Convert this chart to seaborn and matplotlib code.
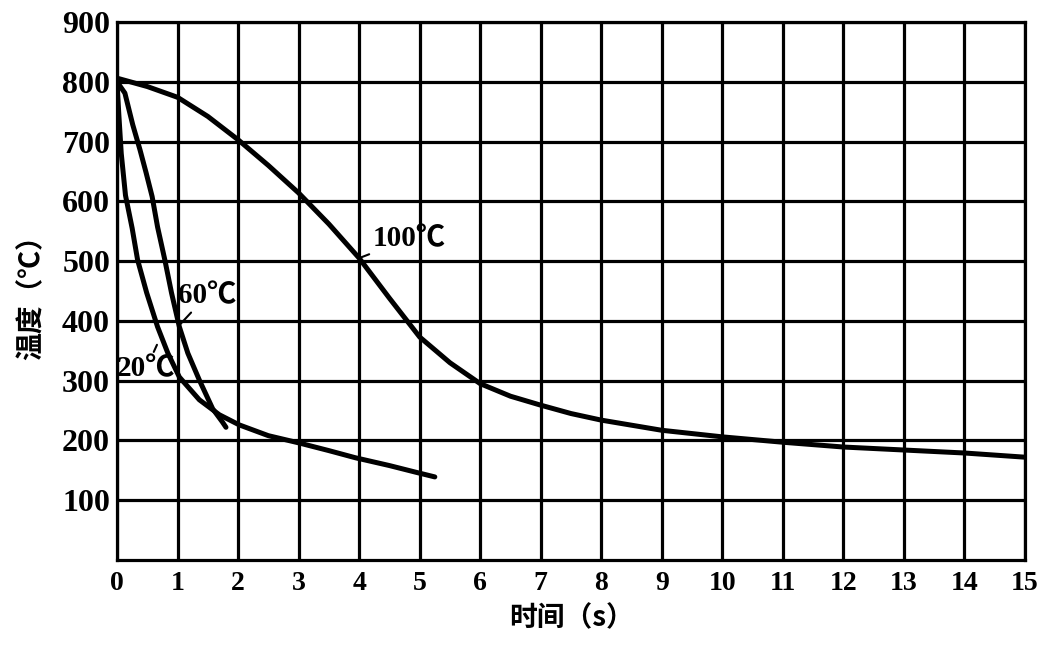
import matplotlib
matplotlib.use("Agg")
import matplotlib.pyplot as plt
import seaborn as sns
import pandas as pd

# ---- data ----
t_100 = [0, 0.5, 1, 1.5, 2, 2.5, 3, 3.5, 4, 4.5, 5, 5.5, 6, 6.5, 7, 7.5, 8, 9, 10, 11, 12, 13, 14, 15]
T_100 = [806, 792, 774, 742, 703, 660, 614, 562, 505, 438, 373, 330, 295, 274, 259, 245, 234, 217, 206, 197, 189, 184, 179, 172]

t_60 = [0, 0.13, 0.26, 0.38, 0.48, 0.58, 0.67, 0.79, 0.9, 1.03, 1.17, 1.36, 1.58, 1.74, 1.8]
T_60 = [800, 781, 728, 686, 648, 608, 557, 502, 447, 390, 346, 301, 253, 231, 222]

t_20 = [0, 0.03, 0.07, 0.14, 0.25, 0.34, 0.49, 0.67, 0.84, 1.03, 1.36, 1.69, 2.02, 2.5, 3.0, 3.5, 3.94, 4.5, 4.93, 5.25]
T_20 = [800, 745, 680, 610, 555, 502, 447, 390, 346, 306, 268, 243, 226, 208, 196, 183, 171, 158, 147, 139]

curve_labels = ["100℃", "60℃", "20℃"]
x_ticks = list(range(0, 16))
y_ticks = [100, 200, 300, 400, 500, 600, 700, 800, 900]
x_label = "时间（s）"
y_label = "温度（℃）"

df = pd.concat([
    pd.DataFrame({"t": t_100, "T": T_100, "c": curve_labels[0]}),
    pd.DataFrame({"t": t_60, "T": T_60, "c": curve_labels[1]}),
    pd.DataFrame({"t": t_20, "T": T_20, "c": curve_labels[2]}),
])

sns.set_theme(style="white")
plt.rcParams["font.family"] = ["Liberation Serif", "Noto Sans CJK SC", "DejaVu Sans"]
plt.rcParams["text.color"] = "black"
plt.rcParams["xtick.color"] = "black"
plt.rcParams["ytick.color"] = "black"
plt.rcParams["axes.labelcolor"] = "black"

fig = plt.figure(figsize=(10.42, 6.46), dpi=100)
ax = fig.add_axes([0.1123, 0.1331, 0.8714, 0.8329])

sns.lineplot(data=df, x="t", y="T", units="c", estimator=None, sort=False,
             color="black", lw=3.6, ax=ax, legend=False)

ax.set_xlim(0, 15)
ax.set_ylim(0, 900)
ax.set_xticks(x_ticks)
ax.set_yticks(y_ticks)
ax.set_xticklabels([str(v) for v in x_ticks], fontsize=20, fontweight="bold",
                   family=["Liberation Serif"], color="black")
ax.set_yticklabels([str(v) for v in y_ticks], fontsize=23, fontweight="bold",
                   family=["Liberation Serif"], color="black")
ax.tick_params(axis="both", length=0)
ax.tick_params(axis="x", pad=8)
ax.tick_params(axis="y", pad=5)
ax.grid(True, color="black", lw=2.3)
for s in ax.spines.values():
    s.set_color("black")
    s.set_linewidth(2.3)

ax.set_xlabel(x_label, fontsize=20, fontweight="bold", color="black",
              family=["Noto Sans CJK SC", "DejaVu Sans"], labelpad=6)
ax.set_ylabel(y_label, fontsize=20, fontweight="bold", color="black",
              family=["Noto Sans CJK SC", "DejaVu Sans"], labelpad=12)

# curve annotations with short leader lines
lab_font = dict(fontsize=21, fontweight="bold", family=["Liberation Serif", "Noto Sans CJK SC"],
                color="black")
ax.annotate(curve_labels[0], xy=(4.0, 505), xytext=(4.22, 537), ha="left", va="center",
            arrowprops=dict(arrowstyle="-", lw=1.5, color="black",
                            shrinkA=0, shrinkB=0), **lab_font)
ax.annotate(curve_labels[1], xy=(1.05, 395), xytext=(1.0, 442), ha="left", va="center",
            arrowprops=dict(arrowstyle="-", lw=1.5, color="black",
                            shrinkA=0, shrinkB=0), **lab_font)
ax.annotate(curve_labels[2], xy=(0.66, 360), xytext=(0.0, 320), ha="left", va="center",
            arrowprops=dict(arrowstyle="-", lw=1.5, color="black",
                            shrinkA=0, shrinkB=0), **lab_font)

fig.savefig("out.png", dpi=100, facecolor="white")
